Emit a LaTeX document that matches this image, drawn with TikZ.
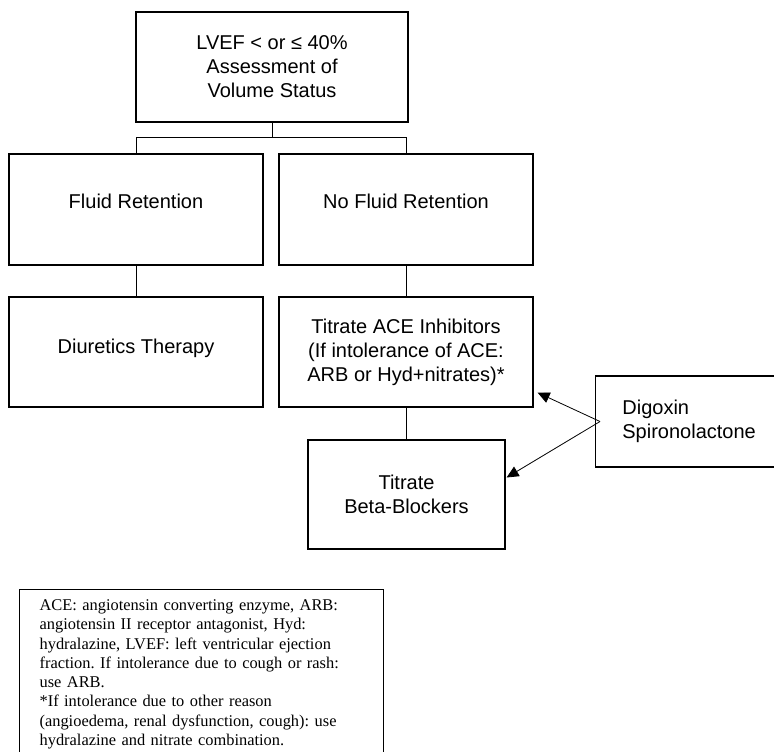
\documentclass[tikz,border=0pt]{standalone}
\usepackage{fontspec}
\setmainfont{Liberation Sans}
\newfontfamily\notefont{Liberation Serif}
\usetikzlibrary{arrows.meta}

\begin{document}
\begin{tikzpicture}[x=0.5pt,y=-0.5pt,
    box/.style={draw,line width=0.6pt,align=center,inner sep=0pt,font=\fontsize{10}{12}\selectfont},
    uptext/.style={text height=7.3pt,text depth=#1},
    link/.style={line width=0.5pt},
    pointer/.style={-{Triangle[length=6pt,width=5.5pt]},line width=0.4pt}]
    \useasboundingbox (0,0) rectangle (774,751);
    \node[box,minimum width=136pt,minimum height=55pt] (top) at (272,67) {LVEF < or ≤ 40\%\\Assessment of\\Volume Status};
    \node[box,minimum width=127pt,minimum height=55.5pt,uptext=8.5pt] (fluid) at (136,209.5) {Fluid Retention};
    \node[box,minimum width=127pt,minimum height=55.5pt,uptext=8.5pt] (nofluid) at (406,209.5) {No Fluid Retention};
    \node[box,minimum width=127pt,minimum height=55pt,uptext=6pt] (diur) at (136,352) {Diuretics Therapy};
    \node[box,minimum width=127pt,minimum height=55pt] (ace) at (406,352) {Titrate ACE Inhibitors\\(If intolerance of ACE:\\ARB or Hyd+nitrates)*};
    \node[box,minimum width=98.5pt,minimum height=54.5pt] (beta) at (406.5,494.5) {Titrate\\Beta-Blockers};
    \node[box,align=left,anchor=west,minimum width=93.5pt,minimum height=45.5pt] (dig) at (595,421.5) {Digoxin\\Spironolactone};
    \node[draw,line width=0.6pt,anchor=north west,align=left,text width=162pt,inner xsep=10pt,inner ysep=5pt,font=\notefont\fontsize{8.2}{9.65}\selectfont\frenchspacing] (note) at (19,589) {ACE: angiotensin converting enzyme, ARB:\\angiotensin II receptor antagonist, Hyd:\\hydralazine, LVEF: left ventricular ejection\\fraction. If intolerance due to cough or rash:\\use ARB.\\{}*If intolerance due to other reason\\(angioedema, renal dysfunction, cough): use\\hydralazine and nitrate combination.};
    % tree lines
    \draw[link] (top.south) -- ++(0,15) coordinate (split);
    \draw[link] (fluid.north) |- (split) -| (nofluid.north);
    \draw[link] (fluid.south) -- (diur.north);
    \draw[link] (nofluid.south) -- (ace.north);
    \draw[link] (ace.south) -- (ace.south |- beta.north);
    % add-on drugs
    \coordinate (src) at ([xshift=2.5pt]dig.west);
    \draw[pointer] (src) -- ([shift={(4,-15)}]ace.south east);
    \draw[pointer] (src) -- ([shift={(1,-17)}]beta.east);
\end{tikzpicture}
\end{document}
